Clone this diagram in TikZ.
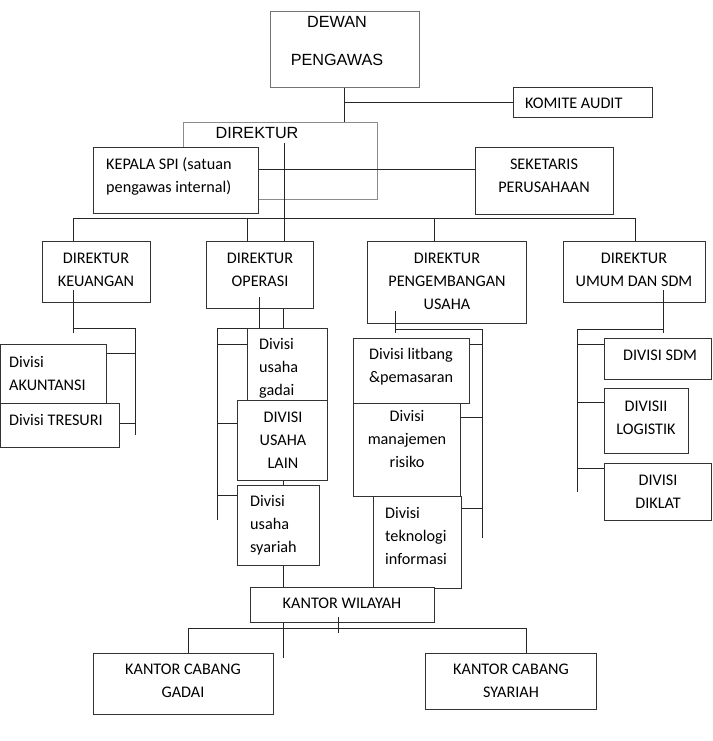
\documentclass[tikz,border=0pt]{standalone}
\usepackage{fontspec}
\setmainfont{Carlito}
\newfontfamily\arialf{Liberation Sans}
\begin{document}
\begin{tikzpicture}[x=1pt,y=-1pt,
  bx/.style={draw=black!80, line width=1pt, fill=white, inner sep=0pt},
  gbx/.style={draw=black!45, line width=0.9pt, inner sep=0pt},
  ln/.style={draw=black!85, line width=1pt},
  tx/.style={font=\fontsize{16.2}{23}\selectfont, inner sep=0pt, align=center, text=black},
  txl/.style={tx, align=left, anchor=west},
  atx/.style={font=\arialf\fontsize{16.2}{18}\selectfont, inner sep=0pt, align=center, text=black}]
\useasboundingbox (0,0) rectangle (712,741);

% top level
\node[bx, draw=black!55, minimum width=149, minimum height=76] (dewan) at (344.5,50) {};
\node[atx] (dewanT) at (337,41) {DEWAN\\[20pt]PENGAWAS};
\node[bx, minimum width=139, minimum height=30] (komite) at (582.5,103) {};
\node[txl] (komiteT) at (525,103) {KOMITE AUDIT};
\node[gbx, minimum width=194, minimum height=77] (direktur) at (280,160.5) {};
\node[atx] (direkturT) at (257,133) {DIREKTUR};
\node[bx, minimum width=165, minimum height=66] (spi) at (175.5,180) {};
\node[txl] (spiT) at (106,176.5) {KEPALA SPI (satuan\\pengawas internal)};
\node[bx, minimum width=138, minimum height=67] (sek) at (544,180.5) {};
\node[tx] (sekT) at (544,176) {SEKETARIS\\PERUSAHAAN};

% directors
\node[bx, minimum width=108, minimum height=61] (keu) at (96,271.5) {};
\node[tx] (keuT) at (96,269.5) {DIREKTUR\\KEUANGAN};
\node[bx, minimum width=107, minimum height=67] (ops) at (259.5,274.5) {};
\node[tx] (opsT) at (260,269.5) {DIREKTUR\\OPERASI};
\node[bx, minimum width=159, minimum height=82] (peng) at (446.5,282) {};
\node[tx] (pengT) at (447,281.5) {DIREKTUR\\PENGEMBANGAN\\USAHA};
\node[bx, minimum width=142, minimum height=61] (umum) at (634,271.5) {};
\node[tx] (umumT) at (634,269.5) {DIREKTUR\\UMUM DAN SDM};

% keuangan divisions
\node[bx, minimum width=105.5, minimum height=59] (akun) at (53.25,373.5) {};
\node[txl] (akunT) at (9,373) {Divisi\\AKUNTANSI};
\node[bx, minimum width=118.5, minimum height=44] (tres) at (59.75,425) {};
\node[txl] (tresT) at (9,420) {Divisi TRESURI};

% operasi divisions
\node[bx, minimum width=80, minimum height=72] (gadai) at (287,364) {};
\node[txl] (gadaiT) at (259,368) {Divisi\\usaha\\gadai};
\node[bx, minimum width=90, minimum height=80] (lain) at (282,440) {};
\node[tx] (lainT) at (283,440) {DIVISI\\USAHA\\LAIN};
\node[bx, minimum width=82, minimum height=80] (syar) at (278,525) {};
\node[txl] (syarT) at (250,525) {Divisi\\usaha\\syariah};

% pengembangan divisions
\node[bx, minimum width=116, minimum height=65] (litbang) at (411,370.5) {};
\node[tx] (litbangT) at (411,366.5) {Divisi litbang\\\&pemasaran};
\node[bx, minimum width=107, minimum height=93] (manaj) at (406.5,449.5) {};
\node[tx] (manajT) at (407,439) {Divisi\\manajemen\\risiko};
\node[bx, minimum width=88, minimum height=92] (tekno) at (417,542) {};
\node[txl] (teknoT) at (385,535.5) {Divisi\\teknologi\\informasi};

% umum divisions
\node[bx, minimum width=107, minimum height=41] (sdm) at (657.5,358.5) {};
\node[tx] (sdmT) at (660,355) {DIVISI SDM};
\node[bx, minimum width=84, minimum height=65] (logis) at (646,420.5) {};
\node[tx] (logisT) at (646,418) {DIVISII\\LOGISTIK};
\node[bx, minimum width=107, minimum height=57] (diklat) at (657.5,491.5) {};
\node[tx] (diklatT) at (658,491.5) {DIVISI\\DIKLAT};

% kantor
\node[bx, minimum width=184, minimum height=35] (kw) at (342,604.5) {};
\node[tx] (kwT) at (342,603) {KANTOR WILAYAH};
\node[bx, minimum width=180, minimum height=61] (kcg) at (183,683.5) {};
\node[tx] (kcgT) at (183,681) {KANTOR CABANG\\GADAI};
\node[bx, minimum width=171, minimum height=56] (kcs) at (510.5,681) {};
\node[tx] (kcsT) at (511,681) {KANTOR CABANG\\SYARIAH};

% ---- connectors ----
\draw[ln] (dewan.south) -- (dewan.south |- direktur.north);
\coordinate (ja) at (dewan.south |- komite.west);
\draw[ln] (ja) -- (komite.west);
\coordinate (jd) at (284,143);
\draw[ln] (jd) -- (jd |- ops.north);
\coordinate (js) at (spi.east |- 0,169);
\draw[ln] (js) -- (js -| sek.west);

% main bus
\coordinate (bk) at (73,218);
\coordinate (bo) at (247,218);
\coordinate (bp) at (434,218);
\coordinate (bu) at (635,218);
\draw[ln] (bk) -- (bu);
\draw[ln] (bk) -- (bk |- keu.north);
\draw[ln] (bo) -- (bo |- ops.north);
\draw[ln] (bp) -- (bp |- peng.north);
\draw[ln] (bu) -- (bu |- umum.north);

% keuangan
\coordinate (k0) at (73,290);
\coordinate (k1) at (73,333);
\coordinate (k2) at (73,328);
\coordinate (k3) at (135,328);
\coordinate (k4) at (135,435);
\draw[ln] (k0) -- (k1);
\draw[ln] (k2) -- (k3) -- (k4);
\draw[ln] (akun.east |- 0,353) -- (k3 |- 0,353);
\draw[ln] (tres.east |- 0,423) -- (k3 |- 0,423);

% operasi
\coordinate (o0) at (259,297);
\draw[ln] (o0) -- (o0 |- gadai.north);
\coordinate (o1) at (ops.south -| 283,0);
\draw[ln] (o1) -- (o1 |- gadai.north);
\coordinate (o2) at (217,328);
\coordinate (o3) at (217,520);
\draw[ln] (o2) -- (o2 -| gadai.west);
\draw[ln] (o2) -- (o3);
\draw[ln] (o2 |- 0,344) -- (gadai.west |- 0,344);
\draw[ln] (o2 |- 0,423) -- (lain.west |- 0,423);
\draw[ln] (o2 |- 0,495) -- (syar.west |- 0,495);
\draw[ln] (lain.south -| 283,0) -- (syar.north -| 283,0);
\draw[ln] (syar.south -| 283,0) -- (kw.north -| 283,0);

% pengembangan
\coordinate (p0) at (395,311);
\coordinate (p1) at (395,333);
\coordinate (p2) at (395,329);
\coordinate (p3) at (482,329);
\coordinate (p4) at (482,538);
\draw[ln] (p0) -- (p1);
\draw[ln] (p2) -- (p3) -- (p4);
\draw[ln] (litbang.east |- 0,344) -- (p3 |- 0,344);
\draw[ln] (manaj.east |- 0,417) -- (p3 |- 0,417);
\draw[ln] (tekno.east |- 0,508) -- (p3 |- 0,508);

% umum
\coordinate (u0) at (663,290);
\coordinate (u1) at (663,333);
\coordinate (u2) at (663,329);
\coordinate (u3) at (577,329);
\coordinate (u4) at (577,492);
\draw[ln] (u0) -- (u1);
\draw[ln] (u2) -- (u3) -- (u4);
\draw[ln] (u3 |- 0,344) -- (sdm.west |- 0,344);
\draw[ln] (u3 |- 0,402) -- (logis.west |- 0,402);
\draw[ln] (u3 |- 0,468) -- (diklat.west |- 0,468);

% kantor wilayah
\coordinate (w0) at (kw.south -| 283,0);
\coordinate (w1) at (283,658);
\draw[ln] (w0) -- (w1);
\coordinate (t0) at (338,617);
\coordinate (t1) at (338,633);
\draw[ln] (t0) -- (t1);
\coordinate (c0) at (188,628);
\coordinate (c1) at (526,628);
\draw[ln] (c0) -- (c1);
\draw[ln] (c0) -- (c0 |- kcg.north);
\draw[ln] (c1) -- (c1 |- kcs.north);
\end{tikzpicture}
\end{document}
